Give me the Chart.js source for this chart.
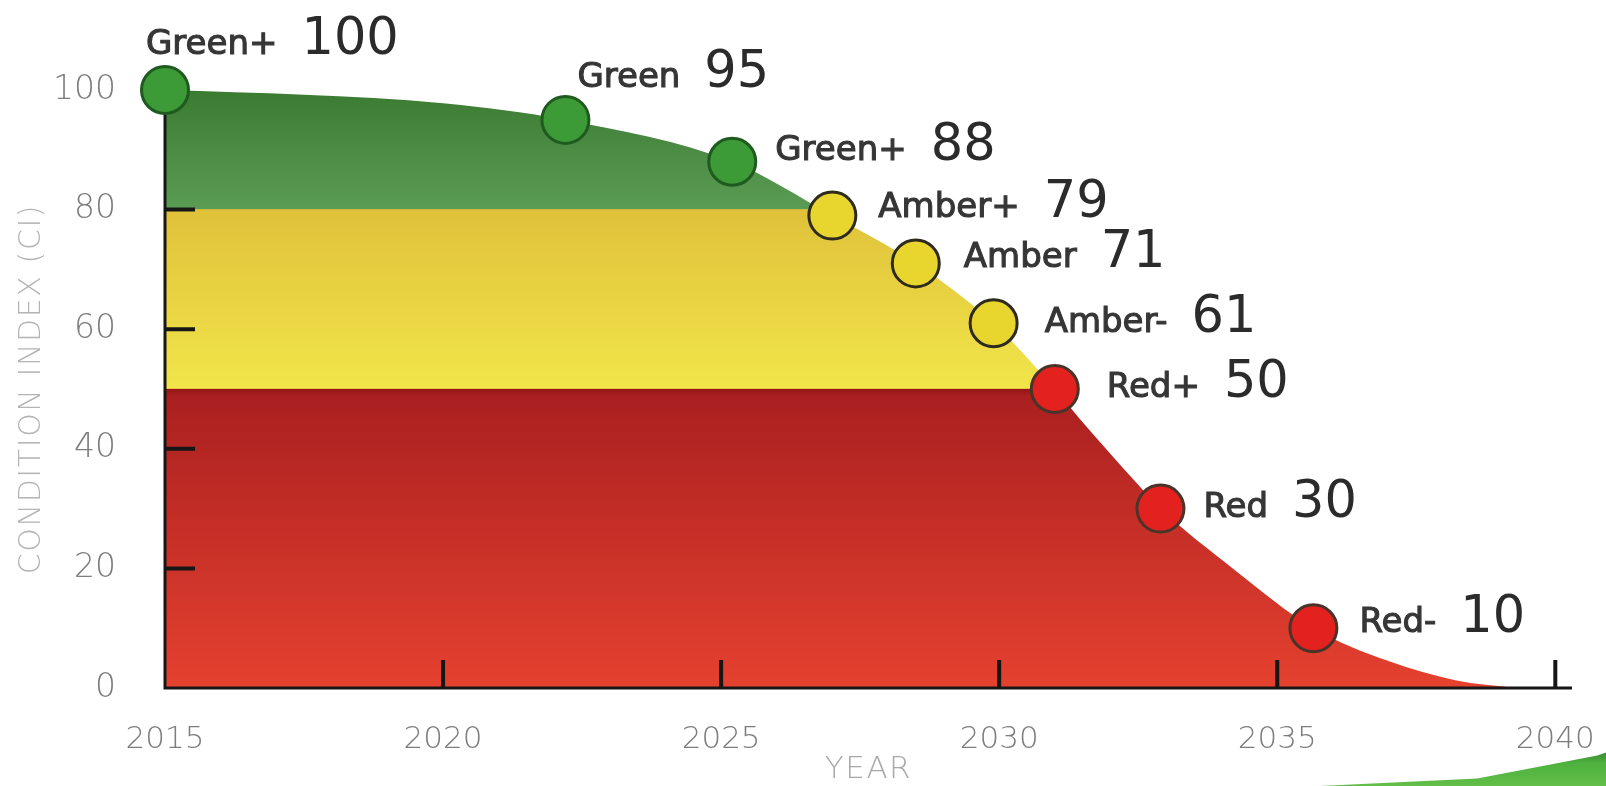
<!DOCTYPE html>
<html>
<head>
<meta charset="utf-8">
<title>Condition index forecast</title>
<script src="https://cdn.jsdelivr.net/npm/chart.js@4.4.1/dist/chart.umd.min.js"></script>
<style>
  html, body { margin: 0; padding: 0; background: #fff; overflow: hidden; }
  #wrap { position: relative; width: 1606px; height: 786px; }
  #swoosh {
    position: absolute; left: 1320px; top: 748px; width: 286px; height: 38px;
    background: linear-gradient(to bottom, #2f7a2c 0%, #4fb13e 40%, #62be48 100%);
    clip-path: polygon(0 100%, 55% 80%, 97% 20%, 100% 12%, 100% 100%);
  }
</style>
</head>
<body>
<div id="wrap">
  <canvas id="ciChart" width="1606" height="786"></canvas>
  <div id="swoosh"></div>
</div>
<script>
// inspection points: year, score and grade
const YEARS = [2015, 2022.2, 2025.2, 2027, 2028.5, 2029.9, 2031, 2032.9, 2035.65];
const SCORES = [100, 95, 88, 79, 71, 61, 50, 30, 10];
const GRADES = ["Green+", "Green", "Green+", "Amber+", "Amber", "Amber-", "Red+", "Red", "Red-"];

// deterioration curve
const CURVE_YEARS = [2015, 2017.5, 2020, 2022.2, 2025.2, 2027, 2028.5, 2029.9, 2031, 2031.45, 2032.5, 2032.9, 2034.2, 2035.65, 2037, 2038.2, 2039.3];
const CURVE_VALUES = [100, 99.2, 97.8, 95, 88, 79, 71, 61, 50, 45, 34, 30, 20, 10, 4.5, 1.3, 0];

// band limits (green above, red below)
const GREEN_FLOOR = 80;
const RED_CEILING = 50;

const X_TICKS = [2015, 2020, 2025, 2030, 2035, 2040];
const Y_TICKS = [0, 20, 40, 60, 80, 100];
const X_TITLE = "YEAR";
const Y_TITLE = "CONDITION INDEX (CI)";

const FONT = "'DejaVu Sans', 'Noto Sans', sans-serif";

const GRADE_COLORS = {
  Green: { fill: "#3c9a37", line: "#1f5a1f" },
  Amber: { fill: "#e8d62f", line: "#2e2a1c" },
  Red: { fill: "#e3211f", line: "#4a3429" }
};
function gradeColor(g) {
  return GRADE_COLORS[g.replace(/[+-]/g, "")];
}

// offset of each label's text start from its marker centre
const LABEL_OFFSETS = [[-19, -36], [12, -33], [43, -2], [46, 1], [48, 4], [51, 9], [52, 8], [43, 8], [46, 4]];

// fill below the curve, split into green / amber / red bands
function bandFill(context) {
  const chart = context.chart;
  if (!chart.chartArea) return null;
  const y = chart.scales.y;
  const top = y.getPixelForValue(100);
  const bottom = y.getPixelForValue(0);
  const pos = v => (y.getPixelForValue(v) - top) / (bottom - top);
  const g = chart.ctx.createLinearGradient(0, top, 0, bottom);
  g.addColorStop(0, "#3b7a31");
  g.addColorStop(pos(GREEN_FLOOR) - 0.001, "#5b9c55");
  g.addColorStop(pos(GREEN_FLOOR), "#e0c13a");
  g.addColorStop(pos(RED_CEILING) - 0.001, "#f1e54a");
  g.addColorStop(pos(RED_CEILING), "#951515");
  g.addColorStop(pos(RED_CEILING) + 0.012, "#aa2020");
  g.addColorStop(1, "#e5412f");
  return g;
}

// axis lines and the short inner tick marks, drawn over the fill but under the markers
const axisLines = {
  id: "axisLines",
  afterDatasetDraw(chart, args) {
    if (args.index !== 0) return;
    const { ctx, chartArea: ca } = chart;
    const xs = chart.scales.x, ys = chart.scales.y;
    ctx.save();
    ctx.strokeStyle = "#161616";
    ctx.lineWidth = 3;
    ctx.beginPath();
    ctx.moveTo(ca.left, ca.top);
    ctx.lineTo(ca.left, ca.bottom);
    ctx.lineTo(ca.right, ca.bottom);
    ctx.stroke();
    ctx.lineWidth = 4;
    ctx.beginPath();
    X_TICKS.slice(1).forEach(v => {
      const px = xs.getPixelForValue(v);
      ctx.moveTo(px, ca.bottom);
      ctx.lineTo(px, ca.bottom - 28);
    });
    Y_TICKS.slice(1, -1).forEach(v => {
      const py = ys.getPixelForValue(v);
      ctx.moveTo(ca.left, py);
      ctx.lineTo(ca.left + 30, py);
    });
    ctx.stroke();
    ctx.restore();
  }
};

// axis titles with letter spacing (Chart.js titles can't space letters)
const axisTitles = {
  id: "axisTitles",
  afterDraw(chart) {
    const { ctx, chartArea: ca } = chart;
    ctx.save();
    ctx.textAlign = "center";
    ctx.textBaseline = "middle";

    ctx.font = "200 30px " + FONT;
    ctx.letterSpacing = "1.6px";
    ctx.fillStyle = "#b4b4b4";
    ctx.save();
    ctx.translate(32, (ca.top + ca.bottom) / 2);
    ctx.rotate(-Math.PI / 2);
    ctx.fillText(Y_TITLE, 0, 0);
    ctx.restore();

    ctx.font = "200 31px " + FONT;
    ctx.letterSpacing = "1.5px";
    ctx.fillStyle = "#a9a9a9";
    ctx.fillText(X_TITLE, (ca.left + ca.right) / 2, chart.height - 16);
    ctx.restore();
  }
};

const gradeLabels = {
  id: "gradeLabels",
  afterDatasetsDraw(chart) {
    const ctx = chart.ctx;
    const meta = chart.getDatasetMeta(1);
    ctx.save();
    ctx.textAlign = "left";
    ctx.textBaseline = "alphabetic";
    meta.data.forEach((pt, i) => {
      const [dx, dy] = LABEL_OFFSETS[i];
      let x = pt.x + dx;
      const y = pt.y + dy;
      ctx.font = "34px " + FONT;
      ctx.fillStyle = "#363636";
      ctx.strokeStyle = "#363636";
      ctx.lineWidth = 1.1;
      ctx.fillText(GRADES[i], x, y);
      ctx.strokeText(GRADES[i], x, y);
      x += ctx.measureText(GRADES[i]).width + 24;
      ctx.font = "51px " + FONT;
      ctx.fillStyle = "#2b2b2b";
      ctx.fillText(String(SCORES[i]), x, y);
    });
    ctx.restore();
  }
};

const ctx = document.getElementById("ciChart").getContext("2d");

new Chart(ctx, {
  type: "line",
  data: {
    datasets: [
      {
        label: "Condition",
        data: CURVE_YEARS.map((x, i) => ({ x, y: CURVE_VALUES[i] })),
        fill: "origin",
        backgroundColor: bandFill,
        borderColor: "rgba(0,0,0,0)",
        borderWidth: 0,
        pointRadius: 0,
        cubicInterpolationMode: "monotone",
        order: 2
      },
      {
        label: "Inspections",
        data: YEARS.map((x, i) => ({ x, y: SCORES[i] })),
        showLine: false,
        pointRadius: 23.5,
        pointHoverRadius: 23.5,
        pointBorderWidth: 3,
        pointBackgroundColor: GRADES.map(g => gradeColor(g).fill),
        pointBorderColor: GRADES.map(g => gradeColor(g).line),
        clip: false,
        order: 1
      }
    ]
  },
  options: {
    responsive: false,
    animation: false,
    layout: { padding: { top: 90, right: 34, left: 0, bottom: 0 } },
    plugins: {
      legend: { display: false },
      tooltip: { enabled: false }
    },
    scales: {
      x: {
        type: "linear",
        min: 2015,
        max: 2040.3,
        afterBuildTicks: s => { s.ticks = X_TICKS.map(v => ({ value: v })); },
        afterFit: s => { s.height = 98; s.paddingLeft = 0; s.paddingRight = 0; },
        grid: { display: false, drawTicks: false },
        border: { display: false },
        ticks: {
          padding: 33,
          color: "#7d7d7d",
          font: { family: FONT, size: 31, weight: "200" },
          callback: v => String(v)
        }
      },
      y: {
        min: 0,
        max: 100,
        afterBuildTicks: s => { s.ticks = Y_TICKS.map(v => ({ value: v })); },
        afterFit: s => { s.width = 165; },
        grid: { display: false, drawTicks: false },
        border: { display: false },
        ticks: {
          padding: 49,
          color: "#7d7d7d",
          font: { family: FONT, size: 33, weight: "200" }
        }
      }
    }
  },
  plugins: [axisLines, gradeLabels, axisTitles]
});
</script>
</body>
</html>
